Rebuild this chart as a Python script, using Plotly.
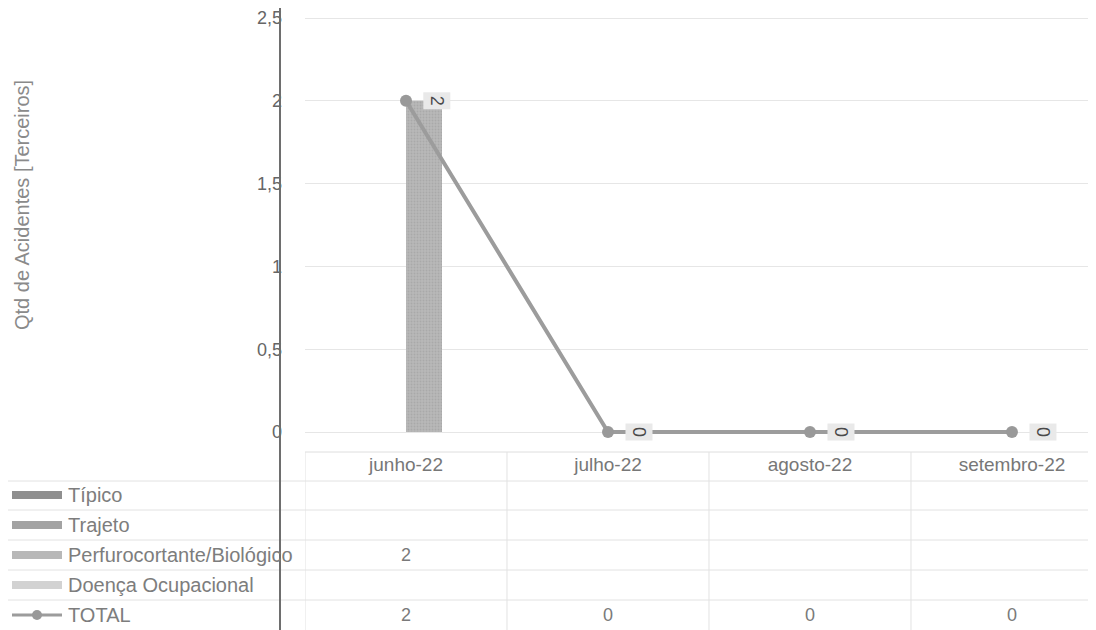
import plotly.graph_objects as go

# ---- data ----
categories = ["junho-22", "julho-22", "agosto-22", "setembro-22"]
tipico = [None, None, None, None]
trajeto = [None, None, None, None]
perfuro = [2, None, None, None]
doenca = [None, None, None, None]
total = [2, 0, 0, 0]
series_names = ["Típico", "Trajeto", "Perfurocortante/Biológico", "Doença Ocupacional", "TOTAL"]
y_ticks = [0, 0.5, 1, 1.5, 2, 2.5]
y_title = "Qtd de Acidentes [Terceiros]"

# ---- styles / layout (page has 8px body margin) ----
OFF = 8
W, H = 1096 - OFF, 630 - OFF
L = 305 - OFF             # plot left in figure px
PB_REF = 448              # plot bottom in reference px
PH = PB_REF - OFF         # plot height (plot top at figure top)
PW = W - L
Y0_REF, UNIT = 432, 165.6  # reference px of y=0, px per unit
bar_colors = ["#8f8f8f", "#a3a3a3", "#b8b8b8", "#d2d2d2"]
line_color = "#9c9c9c"
font_family = "Liberation Sans, Arial, sans-serif"

def py(Y):  # reference pixel y -> paper y
    return (PB_REF - Y) / PH

def px(X):  # reference pixel x -> paper x
    return (X - OFF - L) / PW

fig = go.Figure()
bar_series = [tipico, trajeto, perfuro, doenca]
for name, vals, col in zip(series_names[:4], bar_series, bar_colors):
    fig.add_trace(go.Bar(
        x=categories, y=vals, name=name,
        marker=dict(color=col, line=dict(width=0),
                    pattern=dict(shape=".", size=3, solidity=0.3,
                                 fgcolor="#999999", bgcolor=col)),
        showlegend=False,
    ))

fig.add_trace(go.Scatter(
    x=categories, y=total, name=series_names[4], mode="lines+markers",
    line=dict(color=line_color, width=4),
    marker=dict(color="#999999", size=12),
    showlegend=False,
))

annotations = []
shapes = []

# data labels for TOTAL (rotated, boxed)
for c, v in zip(categories, total):
    annotations.append(dict(
        x=c, y=v, xref="x", yref="y", text=str(v), showarrow=False,
        xanchor="center", yanchor="middle",
        textangle=90, xshift=31, bgcolor="#e9e9e9",
        font=dict(size=18, color="#4a4a4a", family=font_family),
        borderpad=3,
    ))

# y axis title
annotations.append(dict(
    x=px(22), y=py(205), xref="paper", yref="paper", text=y_title,
    xanchor="center", yanchor="middle",
    textangle=-90, showarrow=False,
    font=dict(size=20, color="#8a8a8a", family=font_family),
))

# data table
row_centers = [495, 525, 555, 585, 615]
row_lines = [481, 510, 540, 570, 600]
table_rows = [tipico, trajeto, perfuro, doenca, total]
for rc, vals in zip(row_centers, table_rows):
    for c, v in zip(categories, vals):
        if v is not None:
            annotations.append(dict(
                x=c, y=py(rc), xref="x", yref="paper", text=str(v),
                xanchor="center", yanchor="middle", showarrow=False,
                font=dict(size=18, color="#7a7a7a", family=font_family),
            ))

# legend keys + labels
for i, (rc, name) in enumerate(zip(row_centers, series_names)):
    annotations.append(dict(
        x=px(66), y=py(rc), xref="paper", yref="paper", text=name,
        xanchor="left", yanchor="middle", showarrow=False,
        font=dict(size=20, color="#7d7d7d", family=font_family),
    ))
    if i < 4:
        shapes.append(dict(type="rect", xref="paper", yref="paper",
                           x0=px(12), x1=px(62), y0=py(rc - 4), y1=py(rc + 4),
                           fillcolor=bar_colors[i], line=dict(width=0)))
    else:
        shapes.append(dict(type="line", xref="paper", yref="paper",
                           x0=px(12), x1=px(62), y0=py(rc), y1=py(rc),
                           line=dict(color=line_color, width=3)))
        shapes.append(dict(type="circle", xref="paper", yref="paper",
                           x0=px(32), x1=px(42), y0=py(rc - 5), y1=py(rc + 5),
                           fillcolor="#999999", line=dict(width=0)))

# table horizontal lines
shapes.append(dict(type="line", xref="paper", yref="paper",
                   x0=0, x1=1, y0=py(452), y1=py(452),
                   line=dict(color="#dedede", width=1)))
for rl in row_lines:
    shapes.append(dict(type="line", xref="paper", yref="paper",
                       x0=px(OFF), x1=1, y0=py(rl), y1=py(rl),
                       line=dict(color="#e2e2e2", width=1)))
# table vertical lines (column borders)
for k in range(len(categories)):
    shapes.append(dict(type="line", xref="x", yref="paper",
                       x0=k - 0.5, x1=k - 0.5, y0=py(452), y1=py(630),
                       line=dict(color="#e2e2e2", width=1)))

# y axis line through whole height
shapes.append(dict(type="line", xref="paper", yref="paper",
                   x0=px(280), x1=px(280), y0=py(OFF), y1=py(630),
                   line=dict(color="#6e6e6e", width=2)))

fig.update_layout(
    width=W, height=H,
    margin=dict(l=L, r=0, t=0, b=H - PH),
    plot_bgcolor="white", paper_bgcolor="white",
    barmode="group", bargap=0.287, bargroupgap=0,
    separators=", ",
    font=dict(family=font_family, color="#666666"),
    annotations=annotations, shapes=shapes,
    showlegend=False,
)
fig.update_xaxes(
    range=[-0.5, 3.416], showgrid=False, zeroline=False, showline=False,
    tickfont=dict(size=19, color="#777777"), ticks="", ticklabelstandoff=3,
)
fig.update_yaxes(
    range=[-(PB_REF - Y0_REF) / UNIT, (Y0_REF - OFF) / UNIT],
    tickvals=y_ticks, showgrid=True,
    gridcolor="#e6e6e6", gridwidth=1, zeroline=False, showline=False,
    tickfont=dict(size=18, color="#666666"), ticks="", ticklabelstandoff=22,
)

fig.write_html("out.html")
